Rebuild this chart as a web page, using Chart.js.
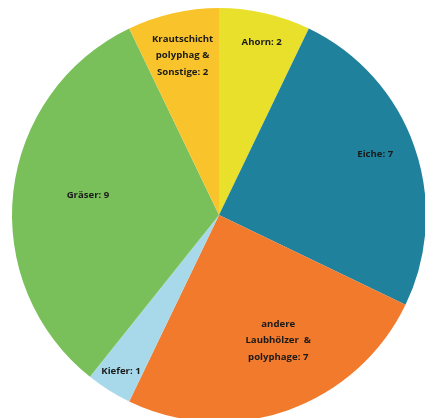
<!DOCTYPE html>
<html>
<head>
<meta charset="utf-8">
<script src="https://cdn.jsdelivr.net/npm/chart.js@4"></script>
<style>
  html, body { margin: 0; padding: 0; background: #fff; }
  #wrap { width: 425px; height: 418px; position: relative; }
</style>
</head>
<body>
<div id="wrap"><canvas id="pieChart"></canvas></div>
<script>
// Pie chart data - order goes clockwise from 12 o'clock
const categories = [
    ['Ahorn: 2'],
    ['Eiche: 7'],
    ['andere', 'Laubhölzer  &', 'polyphage: 7'],
    ['Kiefer: 1'],
    ['Gräser: 9'],
    ['Krautschicht', 'polyphag &', 'Sonstige: 2']
];
const values = [2, 7, 7, 1, 9, 2];
const colors = ['#e9e02c', '#1f819b', '#f27a2c', '#a7d9ea', '#79c05a', '#f9c42b'];

// where to put each label: fraction of radius and angle tweak (deg)
const labelRadius = [0.86, 0.81, 0.67, 0.89, 0.64, 0.79];
const labelAngleShift = [1, -2, -6, 0, 2, 0];

// custom plugin to write labels inside slices
const sliceLabels = {
    id: 'sliceLabels',
    afterDatasetsDraw(chart) {
        const ctx = chart.ctx;
        const meta = chart.getDatasetMeta(0);
        ctx.save();
        ctx.font = 'bold 9.6px "Open Sans", sans-serif';
        ctx.fillStyle = '#1a1a1a';
        ctx.textAlign = 'center';
        ctx.textBaseline = 'middle';
        meta.data.forEach((arc, i) => {
            const mid = (arc.startAngle + arc.endAngle) / 2 + labelAngleShift[i] * Math.PI / 180;
            const r = arc.outerRadius * labelRadius[i];
            const x = arc.x + Math.cos(mid) * r;
            const y = arc.y + Math.sin(mid) * r;
            const lines = categories[i];
            const lh = 16.5;
            lines.forEach((line, j) => {
                ctx.fillText(line, x, y + (j - (lines.length - 1) / 2) * lh);
            });
        });
        ctx.restore();
    }
};

new Chart(document.getElementById('pieChart'), {
    type: 'pie',
    data: {
        labels: categories.map(c => c.join(' ')),
        datasets: [{
            data: values,
            backgroundColor: colors,
            borderWidth: 0,
            clip: false
        }]
    },
    options: {
        responsive: true,
        maintainAspectRatio: false,
        animation: false,
        radius: 207,
        layout: { padding: { left: 13, top: 12, right: 0, bottom: 0 } },
        plugins: {
            legend: { display: false },
            tooltip: { enabled: false }
        }
    },
    plugins: [sliceLabels]
});
</script>
</body>
</html>
